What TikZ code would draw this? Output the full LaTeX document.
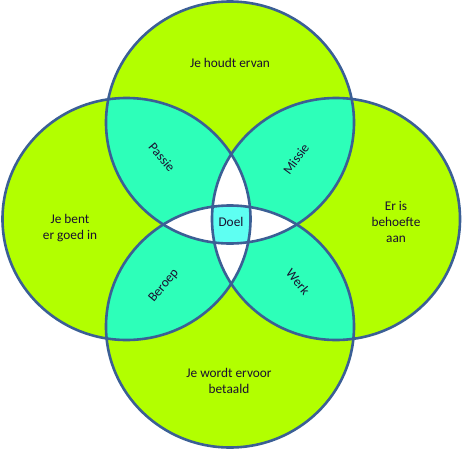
\documentclass[tikz,border=0pt]{standalone}
\usepackage{fontspec}
\setmainfont{Carlito}
\definecolor{kringgroen}{HTML}{B2FF00}
\definecolor{lensblauw}{HTML}{2DFFB9}
\definecolor{doelblauw}{HTML}{5EFFF2}
\definecolor{randblauw}{HTML}{3B5F95}
\definecolor{tekstkleur}{HTML}{1A1030}
% de vier kringen
\def\kringT{(230,122.5) ellipse [x radius=124pt, y radius=121pt]}
\def\kringL{(126.5,219) ellipse [x radius=124pt, y radius=121pt]}
\def\kringR{(336,219) ellipse [x radius=124pt, y radius=121pt]}
\def\kringB{(230,326.5) ellipse [x radius=124pt, y radius=121pt]}
\begin{document}
\begin{tikzpicture}[x=1pt,y=-1pt,
  rand/.style={draw=randblauw,line width=2.6pt},
  tekst/.style={font=\fontsize{13.3}{16}\selectfont,text=tekstkleur,align=center,inner sep=0pt}]
  \useasboundingbox (0,0) rectangle (463,450);
  % Kringen vullen
  \fill[kringgroen] \kringT;
  \fill[kringgroen] \kringL;
  \fill[kringgroen] \kringR;
  \fill[kringgroen] \kringB;
  % Doorsneden van twee kringen
  \begin{scope}\clip \kringT; \fill[lensblauw] \kringL; \end{scope}
  \begin{scope}\clip \kringT; \fill[lensblauw] \kringR; \end{scope}
  \begin{scope}\clip \kringB; \fill[lensblauw] \kringL; \end{scope}
  \begin{scope}\clip \kringB; \fill[lensblauw] \kringR; \end{scope}
  \begin{scope}\clip \kringL; \fill[lensblauw] \kringR; \end{scope}
  \begin{scope}\clip \kringT; \fill[lensblauw] \kringB; \end{scope}
  % Doorsneden van drie kringen
  \begin{scope}\clip \kringT; \clip \kringL; \fill[white] \kringR; \end{scope}
  \begin{scope}\clip \kringB; \clip \kringL; \fill[white] \kringR; \end{scope}
  \begin{scope}\clip \kringT; \clip \kringB; \fill[white] \kringL; \end{scope}
  \begin{scope}\clip \kringT; \clip \kringB; \fill[white] \kringR; \end{scope}
  % Doel
  \begin{scope}\clip \kringT; \clip \kringB; \clip \kringL; \fill[doelblauw] \kringR; \end{scope}
  % Randen
  \draw[rand] \kringT;
  \draw[rand] \kringL;
  \draw[rand] \kringR;
  \draw[rand] \kringB;
  % Teksten
  \node[tekst] (houdt) at (230,63) {Je houdt ervan};
  \node[tekst] (goed) at (70,228) {Je bent\\er goed in};
  \node[tekst] (behoefte) at (396,222) {Er is\\behoefte\\aan};
  \node[tekst] (betaald) at (229,381) {Je wordt ervoor\\betaald};
  \node[tekst] (doel) at (231,222) {Doel};
  \node[tekst,rotate=-50] (passie) at (162,157) {Passie};
  \node[tekst,rotate=54] (missie) at (296,159) {Missie};
  \node[tekst,rotate=50] (beroep) at (164,286) {Beroep};
  \node[tekst,rotate=-50] (werk) at (298,282) {Werk};
\end{tikzpicture}
\end{document}
